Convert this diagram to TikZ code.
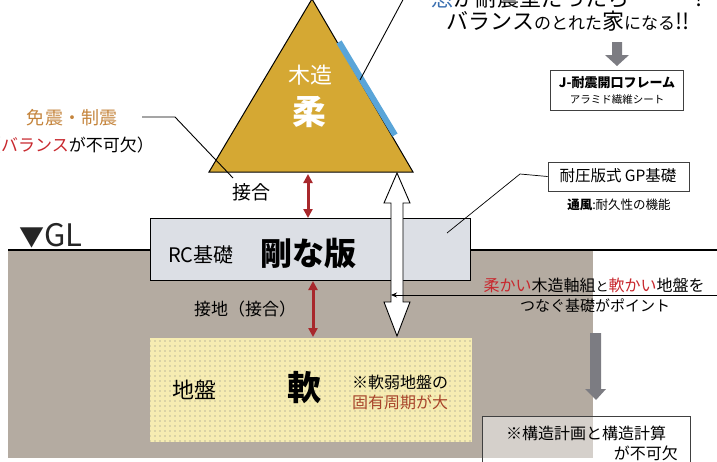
\documentclass[tikz,border=0pt]{standalone}
\usepackage{fontspec}
\setmainfont{Noto Sans CJK JP}
\usetikzlibrary{arrows.meta,patterns.meta}
\definecolor{groundc}{HTML}{B4ABA1}
\definecolor{slabc}{HTML}{DCDFE5}
\definecolor{soilc}{HTML}{F6ECB2}
\definecolor{woodc}{HTML}{D5A833}
\definecolor{bluec}{HTML}{5AA5D8}
\definecolor{darkred}{HTML}{A8282C}
\definecolor{redtxt}{HTML}{C8282E}
\definecolor{orangetxt}{HTML}{C4843C}
\definecolor{browntxt}{HTML}{A8442A}
\definecolor{grayarrow}{HTML}{7C7C82}
\definecolor{bluetxt}{HTML}{3A6FB0}
\begin{document}
\begin{tikzpicture}[x=1pt,y=-1pt,
  txt/.style={inner sep=0pt, font=\fontsize{#1}{#1}\selectfont},
  redarrow/.style={draw=darkred, line width=3pt, >={Triangle[width=9pt,length=9pt]}, <->},
  leader/.style={draw=black, line width=0.9pt},
  grayblock/.style={fill=grayarrow, draw=none},
  framebox/.style={draw=black!75, line width=0.8pt, inner sep=0pt}]
\useasboundingbox (0,0) rectangle (717,461);
\clip (0,0) rectangle (717,461);

% ground
\fill[groundc] (8,250) rectangle (593,458);
\coordinate (glL) at (8,250);
\coordinate (glR) at (717,250);

% slab and soil
\node[draw=black, line width=1pt, fill=slabc, minimum width=320pt, minimum height=62pt, anchor=north west, inner sep=0pt] (slab) at (150,218) {};
\draw[line width=1.8pt] (glL) -- (slab.west |- glL);
\draw[line width=1.8pt] (slab.east |- glR) -- (glR);
\node[fill=soilc, minimum width=322pt, minimum height=104pt, anchor=north west, inner sep=0pt] (soil) at (150,338) {};
\path[pattern={Dots[distance=5pt,radius=0.65pt]}, pattern color=black!50] (soil.north west) rectangle (soil.south east);

% triangle (wooden house)
\coordinate (apex) at (312,-1);
\coordinate (bR) at (413,172);
\coordinate (bL) at (209,172);
\draw[fill=woodc, line width=1pt, line join=miter] (apex) -- (bR) -- (bL) -- cycle;
\coordinate (blueA) at (339,42);
\coordinate (blueB) at (395,135);
\draw[bluec, line width=6pt] (blueA) -- (blueB);

% triangle texts
\node[txt=22, text=white] (mokuzo) at (310,75) {木造};
\node[txt=34, text=white, font=\fontsize{34}{34}\selectfont\bfseries] (ju) at (309,112) {柔};

% top right texts
\node[txt=22] (mado) at (567,-2) {{\color{bluetxt}窓}が耐震壁だったら・・・!};
\node[txt=22] (balance) at (568,21) {バランス{\fontsize{17}{17}\selectfont のとれた}家{\fontsize{17}{17}\selectfont になる}!!};
\coordinate (ldTop) at (405,-4);
\coordinate (ldTri) at (360,80);
\draw[leader] (ldTri) -- (ldTop);

% gray arrow and J box
\path[grayblock] (612,42) -- (622,42) -- (622,55) -- (629,55) -- (617,66) -- (605,55) -- (612,55) -- cycle;
\node[framebox, minimum width=133pt, minimum height=40pt] (jbox) at (616.5,90) {};
\node[txt=13, font=\fontsize{13}{13}\selectfont\bfseries] (jtxt) at (617,83) {J-耐震開口フレーム};
\node[txt=10.5] (aramid) at (617,100) {アラミド繊維シート};

% left labels
\node[txt=18, text=orangetxt] (menshin) at (72,118) {免震・制震};
\node[txt=17, anchor=west] (baltxt) at (-16,145) {（{\color{redtxt}バランス}が不可欠）};
\coordinate (ldBend) at (175,117);
\coordinate (ldEnd) at (233,178);
\draw[leader] (142,117) -- (ldBend) -- (ldEnd);

% joints
\node[txt=19] (setsugo) at (251,192) {接合};
\coordinate (ra1t) at (308,174);
\coordinate (ra1b) at (308,218);
\draw[redarrow] (ra1t) -- (ra1b);
\node[txt=17] (setchi) at (245,309) {接地（接合）};
\coordinate (ra2t) at (313,281);
\coordinate (ra2b) at (313,337);
\draw[redarrow] (ra2t) -- (ra2b);

% slab texts
\node[txt=20] (rc) at (201,255) {RC基礎};
\node[txt=32, font=\fontsize{32}{32}\selectfont\bfseries] (goban) at (308,253) {剛な版};

% GL
\node[txt=31, anchor=west, text=black!85] (gl) at (19,236) {{\fontsize{25}{25}\selectfont ▼}GL};

% soil texts
\node[txt=22] (jiban) at (194,390) {地盤};
\node[txt=34, font=\fontsize{34}{34}\selectfont\bfseries] (nan) at (304,388) {軟};
\node[txt=16] (nanjaku) at (400,382) {※軟弱地盤の};
\node[txt=16, text=browntxt] (koyu) at (400,402) {固有周期が大};

% white double arrow
\draw[fill=white, line width=0.9pt, line join=miter] (397,173) -- (410,203) -- (403,203) -- (403,302) -- (410,302) -- (397,336) -- (384,302) -- (391,302) -- (391,203) -- (384,203) -- cycle;
\coordinate (shaftL) at (391,295);

% GP box
\node[framebox, minimum width=141pt, minimum height=29pt, fill=white] (gp) at (618.5,176.5) {};
\node[txt=15.5] (gptxt) at (618,176) {耐圧版式 GP基礎};
\node[txt=12.5] (tsufu) at (619,205) {{\bfseries 通風}:耐久性の機能};
\coordinate (gpBend) at (520,174);
\coordinate (gpEnd) at (447,233);
\draw[leader, line width=0.7pt] (gp.west) -- (gpBend) -- (gpEnd);

% point text
\node[txt=16] (point1) at (594,285) {{\color{redtxt}柔かい}木造軸組{\fontsize{13}{13}\selectfont と}{\color{redtxt}軟かい}地盤を};
\node[txt=15] (point2) at (595,306) {つなぐ基礎がポイント};
\coordinate (ptR) at (718,295);
\draw[line width=0.8pt, -{Stealth[length=6pt,width=5pt]}] (ptR) -- (shaftL);

% lower right gray arrow and box
\path[grayblock] (590,333) -- (601,333) -- (601,389) -- (606,389) -- (596,400) -- (585,389) -- (590,389) -- cycle;
\node[framebox, fill=white, fill opacity=0.45, draw opacity=1, minimum width=208pt, minimum height=56pt, anchor=north west] (kozo) at (482,416) {};
\node[txt=16] (kozo1) at (586,433) {※構造計画と構造計算};
\node[txt=16, anchor=east] (kozo2) at (678,453) {が不可欠};
\end{tikzpicture}
\end{document}
